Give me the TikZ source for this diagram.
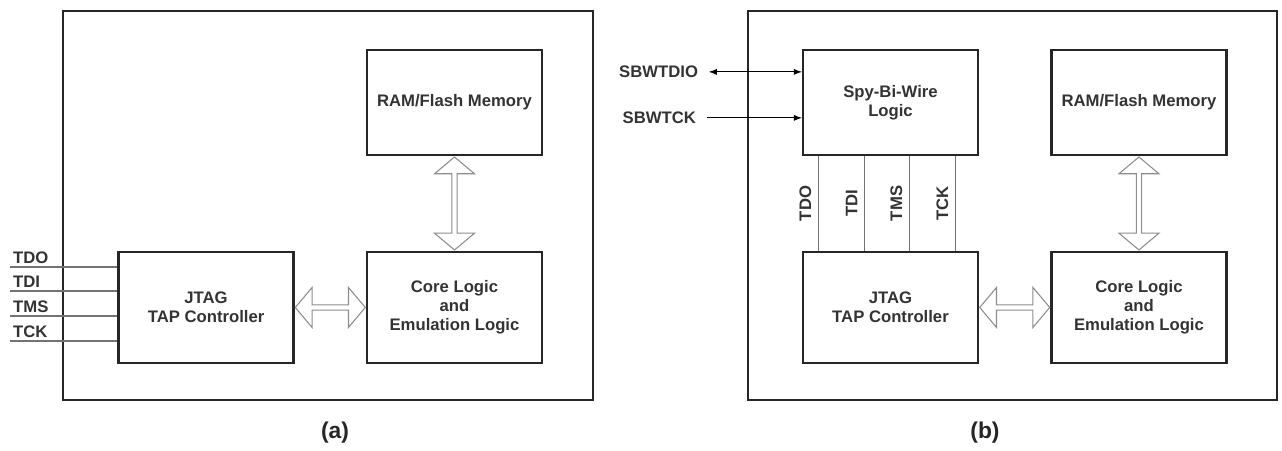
\documentclass[tikz,border=0pt]{standalone}
\usepackage{fontspec}
\setmainfont{Liberation Sans}
\usetikzlibrary{arrows,positioning,calc,shapes.arrows}

\begin{document}
\begin{tikzpicture}[x=0.02cm,y=-0.02cm,>=latex,node distance=4.1cm,on grid,
  font=\fontsize{9.5}{10.8}\selectfont\bfseries]
\tikzset{frame/.style={draw=black!85,line width=1.6pt,minimum width=10.6cm,minimum height=7.78cm}}
\tikzset{block/.style={draw=black!85,line width=1.3pt,minimum width=3.5cm,align=center,text=black!80}}
\tikzset{bus/.style={double arrow,draw=black!45,line width=0.6pt,minimum width=0.8cm,double arrow head extend=0.07cm,double arrow tip angle=100,inner sep=0pt}}
\tikzset{sigline/.style={draw=black!55,line width=0.6pt}}
\tikzset{siglbl/.style={text=black!80,inner sep=1.5pt}}
\useasboundingbox (0,0) rectangle (1282,450);

% (a) plain JTAG
\node[frame] (boxA) at (328,205.5) {};
\node[block,minimum height=2.1cm]  (ramA)  at (454.5,102.5) {RAM/Flash Memory};
\node[block,minimum height=2.22cm] (coreA) [below=of ramA] {Core Logic\\and\\Emulation Logic};
\node[block,minimum height=2.22cm] (jtagA) [left=4.97cm of coreA] {JTAG\\TAP Controller};

\node[bus,rotate=90,minimum height=1.86cm] (busA1) at ($(ramA.south)!0.5!(coreA.north)$) {};
\node[bus,minimum height=1.4cm] (busA2) at ($(jtagA.east)!0.5!(coreA.west)$) {};

\foreach \sig/\dy in {TDO/15,TDI/39,TMS/64,TCK/89}{
  \coordinate (\sig A) at (10,{252+\dy});
  \draw[sigline] (\sig A) -- (\sig A -| jtagA.west) node[pos=0,above right,siglbl] {\sig};
}
\node[font=\fontsize{13}{15}\selectfont\bfseries,text=black!85] (capA) at (335,433) {(a)};

% (b) Spy-Bi-Wire
\node[frame,minimum width=10.58cm] (boxB) at (1012.5,205.5) {};
\node[block,minimum height=2.1cm]  (spy)   at (890.5,102.5) {Spy-Bi-Wire\\Logic};
\node[block,minimum height=2.1cm]  (ramB)  [right=4.97cm of spy] {RAM/Flash Memory};
\node[block,minimum height=2.22cm] (jtagB) [below=of spy] {JTAG\\TAP Controller};
\node[block,minimum height=2.22cm] (coreB) [below=of ramB] {Core Logic\\and\\Emulation Logic};

\node[bus,rotate=90,minimum height=1.86cm] (busB1) at ($(ramB.south)!0.5!(coreB.north)$) {};
\node[bus,minimum height=1.4cm] (busB2) at ($(jtagB.east)!0.5!(coreB.west)$) {};

\foreach \sig/\dx in {TDO/17,TDI/63,TMS/108,TCK/154}{
  \coordinate (\sig B) at ($(spy.south west)+(\dx,0)$);
  \draw[sigline] (\sig B) -- (\sig B |- jtagB.north) node[midway,rotate=90,anchor=south,siglbl,inner sep=4pt] {\sig};
}

\coordinate (dio) at ($(spy.north west)+(-93,23)$);
\coordinate (sck) at ($(spy.north west)+(-95,69)$);
\draw[<->,line width=0.6pt] (dio) -- (dio -| spy.west);
\draw[->,line width=0.6pt] (sck) -- (sck -| spy.west);
\node[siglbl,anchor=east,inner sep=6pt] (ldio) at (dio) {SBWTDIO};
\node[siglbl,anchor=east,inner sep=6pt] (lsck) at (sck) {SBWTCK};
\node[font=\fontsize{13}{15}\selectfont\bfseries,text=black!85] (capB) at (985,433) {(b)};
\end{tikzpicture}
\end{document}
